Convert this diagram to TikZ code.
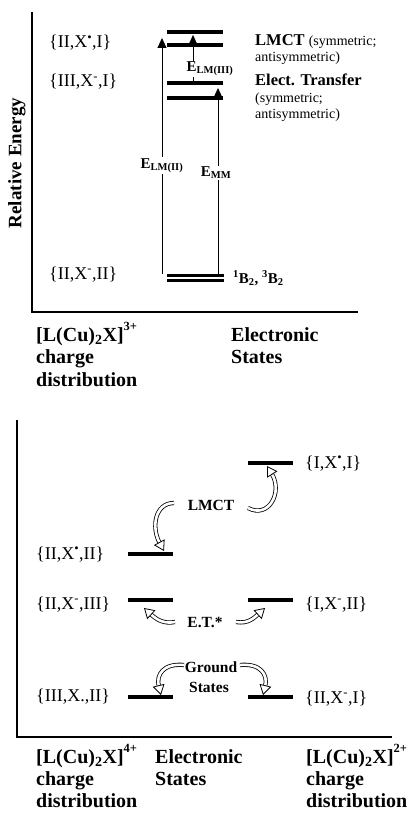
\documentclass[tikz,border=0pt]{standalone}
\usepackage{fontspec}
\setmainfont{Liberation Serif}
\usetikzlibrary{arrows.meta,calc}
\tikzset{
  bar/.style={fill=black, draw=none, inner sep=0pt, minimum height=4pt, minimum width=56pt},
  sbar/.style={fill=black, draw=none, inner sep=0pt, minimum height=4pt, minimum width=45pt},
  gbar/.style={fill=black, draw=none, inner sep=0pt, minimum height=3pt, minimum width=57pt},
  lbl/.style={font=\fontsize{18}{20}\selectfont, inner sep=0pt, anchor=base west},
  bigb/.style={font=\bfseries\fontsize{20}{22}\selectfont, inner sep=0pt, anchor=base west},
  side/.style={font=\fontsize{14}{16}\selectfont, inner sep=0pt, anchor=base west},
  sideb/.style={font=\bfseries\fontsize{16.5}{18}\selectfont, inner sep=0pt, anchor=base west},
  en/.style={fill=white, inner sep=1pt, font=\bfseries\fontsize{15}{17}\selectfont},
  mid/.style={font=\bfseries\fontsize{15.5}{17}\selectfont, inner sep=1pt},
  axis/.style={line width=1.1pt},
  earrow/.style={line width=0.9pt, -{Triangle[length=10pt,width=9pt]}},
  thinarrow/.style={line width=0.3pt, -{Triangle[length=10pt,width=9pt]}},
  hshaft/.style={draw, line width=0.8pt, double=white, double distance=2.6pt},
  hhead/.style={line width=0.8pt, -{Triangle[fill=white,length=10pt,width=12pt]}}
}
\newcommand\hollowarrow[4]{%
  \draw[hshaft, shorten >=9pt] (#1) .. controls (#2) and (#3) .. (#4);
  \draw[hhead] ($(#4)!10pt!(#3)$) -- (#4);}
\newcommand\charge[1]{\raisebox{0.55em}{\bfseries\fontsize{12.5}{12.5}\selectfont #1}}
\begin{document}
\begin{tikzpicture}[x=1pt,y=-1pt]
\useasboundingbox (0,0) rectangle (407,813);

% ---------------- top panel ----------------
\coordinate (tAxTop) at (32,12);
\coordinate (tAxOrig) at (32,312);
\coordinate (tAxRight) at (358,312);
\draw[axis] (tAxTop) -- (tAxOrig) -- (tAxRight);

\node[rotate=90, font=\bfseries\fontsize{19}{21}\selectfont, inner sep=0pt] (relE) at (17,163) {Relative Energy};

\node[lbl] (tL1) at (49,48) {\{II,X\textsuperscript{•},I\}};
\node[lbl] (tL2) at (49,87) {\{III,X\textsuperscript{-},I\}};
\node[lbl] (tL3) at (49,279) {\{II,X\textsuperscript{-},II\}};

\node[bar] (lmA) at (195,32) {};
\node[bar] (lmB) at (195,45) {};
\node[bar] (etA) at (195,83) {};
\node[bar] (etB) at (195,98) {};
\node[gbar] (gA) at (195.5,275) {};
\node[gbar] (gB) at (195.5,280) {};

\coordinate (a1s) at (162,274);
\coordinate (a1e) at (162,38);
\draw[earrow] (a1s) -- node[en, pos=0.46] (eLM2) {E\textsubscript{LM(II)}} (a1e);

\coordinate (a2s) at (218,274);
\coordinate (a2e) at (218,88);
\draw[earrow] (a2s) -- (a2e);
\node[en] (eMM) at (216,173) {E\textsubscript{MM}};

\coordinate (a3s) at (193,84);
\coordinate (a3e) at (193,35);
\draw[thinarrow] (a3s) -- (a3e);
\node[en] (eLM3) at (210,69) {E\textsubscript{LM(III)}};

\node[sideb] (lmctT) at (255,46) {LMCT {\mdseries\fontsize{14}{16}\selectfont (symmetric;}};
\node[side] (lmctT2) at (255,62) {antisymmetric)};
\node[sideb] (etT) at (255,86) {Elect. Transfer};
\node[side] (etT2) at (255,103) {(symmetric;};
\node[side] (etT3) at (255,119) {antisymmetric)};

\node[anchor=base west, inner sep=0pt, font=\bfseries\fontsize{15}{17}\selectfont] (bT) at (233,283) {\textsuperscript{1}B\textsubscript{2}, \textsuperscript{3}B\textsubscript{2}};

\node[bigb] (tb1) at (36,341) {[L(Cu)\textsubscript{2}X]\charge{3+}};
\node[bigb] (tb2) at (36,363.5) {charge};
\node[bigb] (tb3) at (36,386) {distribution};
\node[bigb] (tb4) at (231,341) {Electronic};
\node[bigb] (tb5) at (231,363.5) {States};

% ---------------- bottom panel ----------------
\coordinate (bAxTop) at (17,420);
\coordinate (bAxOrig) at (17,737);
\coordinate (bAxRight) at (392,737);
\draw[axis] (bAxTop) -- (bAxOrig) -- (bAxRight);

\node[sbar] (r1) at (270.5,463) {};
\node[sbar] (l1) at (150.5,554) {};
\node[sbar] (l2) at (150.5,600) {};
\node[sbar] (r2) at (270.5,600) {};
\node[sbar] (l3) at (150.5,697) {};
\node[sbar] (r3) at (270.5,697) {};

\node[lbl] (bR1) at (305,468) {\{I,X\textsuperscript{•},I\}};
\node[lbl] (bL1) at (36,559) {\{II,X\textsuperscript{•},II\}};
\node[lbl] (bL2) at (36,609) {\{II,X\textsuperscript{-},III\}};
\node[lbl] (bR2) at (305,609) {\{I,X\textsuperscript{-},II\}};
\node[lbl] (bL3) at (36,701) {\{III,X.,II\}};
\node[lbl] (bR3) at (305,703) {\{II,X\textsuperscript{-},I\}};

\node[mid] (lmctB) at (211,505) {LMCT};
\node[mid] (etB2) at (205,622) {E.T.*};
\node[mid] (gr1) at (211,667) {Ground};
\node[mid] (gr2) at (209,687) {States};

\coordinate (h1s) at (174,503);  \coordinate (h1e) at (164,551);
\coordinate (h2s) at (248,508);  \coordinate (h2e) at (267,466);
\coordinate (h3s) at (175,622);  \coordinate (h3e) at (144,608);
\coordinate (h4s) at (236,622);  \coordinate (h4e) at (265,608);
\coordinate (h5s) at (184,665);  \coordinate (h5e) at (161,695);
\coordinate (h6s) at (240,665);  \coordinate (h6e) at (263,695);

\hollowarrow{h1s}{155,503}{151,527}{h1e}
\hollowarrow{h2s}{269,519}{283,492}{h2e}
\hollowarrow{h3s}{164,624}{157,620}{h3e}
\hollowarrow{h4s}{248,624}{254,618}{h4e}
\hollowarrow{h5s}{163,663}{156,675}{h5e}
\hollowarrow{h6s}{261,663}{268,675}{h6e}

\node[bigb] (bb1) at (36,763) {[L(Cu)\textsubscript{2}X]\charge{4+}};
\node[bigb] (bb2) at (36,785) {charge};
\node[bigb] (bb3) at (36,807) {distribution};
\node[bigb] (bb4) at (155,763) {Electronic};
\node[bigb] (bb5) at (155,785) {States};
\node[bigb] (bb6) at (306,763) {[L(Cu)\textsubscript{2}X]\charge{2+}};
\node[bigb] (bb7) at (306,785) {charge};
\node[bigb] (bb8) at (306,807) {distribution};
\end{tikzpicture}
\end{document}
